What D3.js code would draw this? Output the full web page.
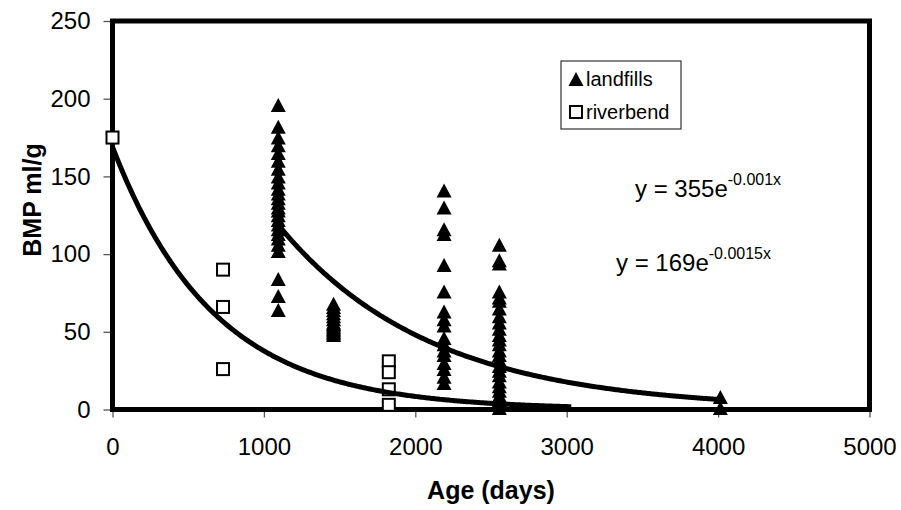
<!DOCTYPE html>
<html>
<head>
<meta charset="utf-8">
<script src="https://cdn.jsdelivr.net/npm/d3@7"></script>
<style>
  html, body { margin: 0; padding: 0; background: #fff; }
  svg text { font-family: "Liberation Sans", Arial, Helvetica, sans-serif; fill: #000; }
</style>
</head>
<body>
<svg id="chart" width="901" height="510"></svg>
<script>
// Landfill samples: ages (days) and the BMP readings taken at each age
const landfillAges = [1095, 1460, 2190, 2555, 4015];
const landfillBMP = [
  [196, 182, 175, 170, 165, 160, 155, 150, 146, 142, 139, 136, 133, 130, 128, 125, 122, 119, 116, 113, 110, 106, 102, 84, 73, 64],
  [68, 66, 64, 62, 60, 58, 56, 55, 54, 53, 52, 51, 50, 49, 48],
  [141, 130, 116, 113, 93, 76, 63, 58, 54, 46, 42, 38, 35, 30, 26, 21, 17],
  [106, 96, 94, 76, 72, 70, 65, 60, 56, 52, 48, 45, 42, 38, 35, 32, 28, 25, 22, 18, 15, 12, 9, 6, 3, 1],
  [8, 1]
];

// Riverbend samples
const riverbendAges = [0, 730, 1825];
const riverbendBMP = [
  [175],
  [90, 66, 26],
  [31, 24, 13, 3]
];

// Exponential fits y = a * exp(k x) and the age span each one is drawn over
const landfillFit = [355, -0.001];
const landfillFitSpan = [1095, 4015];
const riverbendFit = [169, -0.0015];
const riverbendFitSpan = [0, 3030];

const xTicks = [0, 1000, 2000, 3000, 4000, 5000];
const yTicks = [0, 50, 100, 150, 200, 250];
const seriesNames = ["landfills", "riverbend"];

// ---- layout ----
const svg = d3.select("#chart");
const plot = { left: 112.5, right: 869.5, top: 21, bottom: 409.5 };

const x = d3.scaleLinear().domain([0, 5000]).range([plot.left, plot.right]);
const y = d3.scaleLinear().domain([0, 250]).range([plot.bottom, plot.top]);

// ---- axes (ticks + labels) ----
const xAxis = svg.append("g")
  .attr("transform", `translate(0,${plot.bottom})`)
  .call(d3.axisBottom(x).tickValues(xTicks).tickFormat(d3.format("d")).tickSize(8).tickPadding(20));
const yAxis = svg.append("g")
  .attr("transform", `translate(${plot.left},0)`)
  .call(d3.axisLeft(y).tickValues(yTicks).tickFormat(d3.format("d")).tickSize(9).tickPadding(13));

[xAxis, yAxis].forEach(g => {
  g.select(".domain").remove();
  g.selectAll(".tick line").attr("stroke", "#555").attr("stroke-width", 1.3);
  g.selectAll(".tick text")
    .style("font-family", '"Liberation Sans", Arial, sans-serif')
    .style("font-size", "24px")
    .attr("fill", "#000");
});

// ---- plot frame ----
svg.append("rect")
  .attr("x", plot.left).attr("y", plot.top)
  .attr("width", plot.right - plot.left).attr("height", plot.bottom - plot.top)
  .attr("fill", "none").attr("stroke", "#000").attr("stroke-width", 5);

// ---- axis titles ----
svg.append("text")
  .attr("x", (plot.left + plot.right) / 2).attr("y", 499)
  .attr("text-anchor", "middle")
  .style("font-size", "25px").style("font-weight", "bold")
  .text("Age (days)");

svg.append("text")
  .attr("transform", "translate(41,200) rotate(-90)")
  .attr("text-anchor", "middle")
  .style("font-size", "25px").style("font-weight", "bold")
  .text("BMP ml/g");

// ---- markers ----
const triW = 15, triH = 14, sq = 12;
const trianglePath = `M0,${-triH / 2}L${triW / 2},${triH / 2}L${-triW / 2},${triH / 2}Z`;

const landfillPoints = landfillAges.flatMap((age, i) => landfillBMP[i].map(v => ({ age, v })));
const riverbendPoints = riverbendAges.flatMap((age, i) => riverbendBMP[i].map(v => ({ age, v })));

svg.append("g").selectAll("path")
  .data(landfillPoints)
  .join("path")
  .attr("d", trianglePath)
  .attr("transform", d => `translate(${x(d.age)},${y(d.v)})`)
  .attr("fill", "#000");

svg.append("g").selectAll("rect")
  .data(riverbendPoints)
  .join("rect")
  .attr("x", d => x(d.age) - sq / 2)
  .attr("y", d => y(d.v) - sq / 2)
  .attr("width", sq).attr("height", sq)
  .attr("fill", "#fff").attr("stroke", "#000").attr("stroke-width", 2);

// ---- trend lines ----
function fitCurve(fit, span) {
  const ages = d3.range(span[0], span[1], 10).concat([span[1]]);
  return ages.map(a => [a, fit[0] * Math.exp(fit[1] * a)]);
}
const line = d3.line().x(d => x(d[0])).y(d => y(d[1]));

[[landfillFit, landfillFitSpan], [riverbendFit, riverbendFitSpan]].forEach(([fit, span]) => {
  svg.append("path")
    .datum(fitCurve(fit, span))
    .attr("d", line)
    .attr("fill", "none")
    .attr("stroke", "#000")
    .attr("stroke-width", 5);
});

// ---- legend ----
const legend = svg.append("g").attr("transform", "translate(561,61)");
legend.append("rect")
  .attr("width", 120).attr("height", 68)
  .attr("fill", "#fff").attr("stroke", "#333").attr("stroke-width", 1.2);
legend.append("path")
  .attr("d", trianglePath)
  .attr("transform", "translate(15,18)")
  .attr("fill", "#000");
legend.append("rect")
  .attr("x", 15 - sq / 2).attr("y", 51 - sq / 2)
  .attr("width", sq).attr("height", sq)
  .attr("fill", "#fff").attr("stroke", "#000").attr("stroke-width", 2);
legend.selectAll("text.item")
  .data(seriesNames)
  .join("text")
  .attr("class", "item")
  .attr("x", 25)
  .attr("y", (d, i) => 25 + i * 33)
  .style("font-size", "20px")
  .text(d => d);

// ---- fit equations ----
function equation(xPos, yPos, fit) {
  const t = svg.append("text").attr("x", xPos).attr("y", yPos).style("font-size", "24px");
  t.append("tspan").text(`y = ${fit[0]}e`);
  t.append("tspan").attr("dy", -12).style("font-size", "16px").text(`${fit[1]}x`);
}
equation(635, 197, landfillFit);
equation(616, 271, riverbendFit);
</script>
</body>
</html>
